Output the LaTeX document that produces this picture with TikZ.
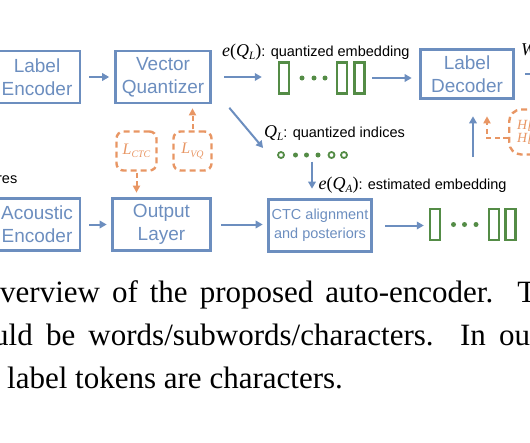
\documentclass[tikz,border=0pt]{standalone}
\usepackage{fontspec}
\setmainfont{Liberation Serif}
\setsansfont{Liberation Sans}
\usetikzlibrary{arrows.meta}
\definecolor{aeblue}{RGB}{108,142,191}
\definecolor{aegreen}{RGB}{84,140,70}
\definecolor{aeorange}{RGB}{232,150,100}
\newcommand{\lowtext}[1]{\raisebox{-0.2em}{\scalebox{0.62}{#1}}}
\begin{document}
\begin{tikzpicture}[x=1pt, y=-1pt,
block/.style={rectangle,draw=aeblue,line width=2.6pt,text=aeblue,align=center,inner sep=0pt,minimum height=52pt,font=\sffamily\fontsize{19}{23}\selectfont},
loss/.style={rectangle,draw=aeorange,line width=2.4pt,dash pattern=on 6pt off 4pt,rounded corners=7pt,text=aeorange,inner sep=0pt,font=\rmfamily\itshape\fontsize{16}{16}\selectfont},
emb/.style={rectangle,draw=aegreen,line width=2.4pt,minimum width=10pt,minimum height=31pt,inner sep=0pt},
dot/.style={circle,fill=aegreen,minimum size=5pt,inner sep=0pt},
idx/.style={circle,draw=aegreen,line width=1.8pt,minimum size=6pt,inner sep=0pt},
flow/.style={draw=aeblue,line width=2pt,-{Triangle[length=7pt,width=7.5pt]},shorten <=8pt,shorten >=5pt},
lossflow/.style={draw=aeorange,line width=2pt,dash pattern=on 5pt off 3.5pt,-{Triangle[length=7pt,width=7pt]}},
note/.style={font=\sffamily\fontsize{14.5}{17}\selectfont,inner sep=0pt,anchor=west},
capline/.style={font=\rmfamily\fontsize{31}{31}\selectfont,inner sep=0pt,anchor=base west}]
\useasboundingbox (0,0) rectangle (530,442);
\clip (0,0) rectangle (530,442);
% blocks
\node[block,minimum width=86pt] (lenc) at (37,77) {Label\\Encoder};%top
\node[block,minimum width=95pt] (vq) at (163,77) {Vector\\Quantizer};
\node[block,minimum width=93pt,minimum height=49pt] (ldec) at (467,74) {Label\\Decoder};
\node[block,minimum width=86pt] (aenc) at (37,224.5) {Acoustic\\Encoder};%bottom
\node[block,minimum width=98pt] (outl) at (161.5,224.5) {Output\\Layer};
\node[block,minimum width=103pt,font=\sffamily\fontsize{14.5}{19}\selectfont] (ctc) at (320,225.5) {CTC alignment\\and posteriors};
% losses
\node[loss,minimum width=40pt,minimum height=39pt] (lctc) at (136.5,151) {L\lowtext{CTC}};
\node[loss,minimum width=38pt,minimum height=39pt] (lvq) at (192.5,151) {L\lowtext{VQ}};
\node[loss,anchor=west,minimum height=45pt,text width=44pt,align=left,inner xsep=8pt,rounded corners=12pt,font=\rmfamily\itshape\fontsize{14}{13}\selectfont] (hist) at (508,132) {H[A]\\H[A]};
% embeddings
\begin{scope}
\node[emb] (e1) at (284,78) {};%1
\node[dot] (d1) at (302,78) {};
\node[dot] (d2) at (314,78) {};
\node[dot] (d3) at (325,78) {};
\node[emb] (e2) at (342,78) {};%2
\node[emb] (e3) at (359.5,78) {};%3
\node[emb] (a1) at (435,224.5) {};%1
\node[dot] (f1) at (453.5,224.5) {};
\node[dot] (f2) at (464.5,224.5) {};
\node[dot] (f3) at (476,224.5) {};
\node[emb] (a2) at (494,224.5) {};%2
\node[emb] (a3) at (510.5,224.5) {};%3
\end{scope}
% indices
\node[idx] (i1) at (281,155) {};
\node[dot] (i2) at (295.5,155) {};
\node[dot] (i3) at (306.5,155) {};
\node[dot] (i4) at (318,155) {};
\node[idx] (i5) at (331.5,155) {};
\node[idx] (i6) at (344,155) {};
% labels
\node[note] (eql) at (222,52) {{\rmfamily\fontsize{18}{18}\selectfont\textit{e}(\textit{Q}\lowtext{\textit{L}})}: quantized embedding};
\node[note] (qll) at (264,133) {{\rmfamily\fontsize{18}{18}\selectfont\textit{Q}\lowtext{\textit{L}}}: quantized indices};
\node[note] (eqa) at (318.5,185) {{\rmfamily\fontsize{18}{18}\selectfont\textit{e}(\textit{Q}\lowtext{\textit{A}})}: estimated embedding};
\node[note,anchor=east] (feat) at (17.5,180) {res};
\node[anchor=west,inner sep=0pt,font=\rmfamily\itshape\fontsize{18}{18}\selectfont] (wlab) at (521,50) {W};
\coordinate (wend) at (560,74);
\coordinate (qaup) at (473,157);
% blue connectors
\draw[flow] (lenc) -- (vq);
\draw[flow,shorten <=12.5pt,shorten >=16pt] (vq.east) -- (vq.east -| e1.west);
\draw[flow,shorten <=6.5pt,shorten >=7.5pt] (e3.east) -- (ldec.west |- e3.east);
\draw[flow,shorten <=10.5pt,shorten >=0pt] (ldec.east) -- (wend);
\draw[flow,shorten <=0pt,shorten >=0pt] ([xshift=17.5pt,yshift=-3.5pt]vq.south east) -- ([xshift=-14pt,yshift=7pt]i1.west);
\draw[flow,shorten <=4pt,shorten >=9.5pt] ([xshift=-8pt]ctc.north |- i4.south) -- ([xshift=-8pt]ctc.north);
\draw[flow,shorten <=0pt,shorten >=16.5pt] (qaup) -- (qaup |- ldec.south);
\draw[flow,shorten >=4.5pt] (aenc) -- (outl);
\draw[flow,shorten <=9.5pt,shorten >=4.5pt] (outl.east) -- (outl.east -| ctc.west);
\draw[flow,shorten <=12.5pt,shorten >=5pt] (ctc.east) -- (ctc.east -| a1.west);
% orange connectors
\draw[lossflow,shorten <=1pt,shorten >=4.5pt] (lctc.south) -- (lctc.south |- outl.north);
\draw[lossflow,shorten <=1pt,shorten >=4pt] (lvq.north) -- (lvq.north |- vq.south);
\draw[lossflow,shorten >=16.5pt] ([yshift=-6pt]hist.west) -| ([xshift=20pt]ldec.south);
% caption
\node[capline] (cap1) at (0,302.5) {\makebox[536pt][s]{verview of the proposed auto-encoder.\ \ T}};
\node[capline] (cap2) at (-7,345) {\makebox[537pt][s]{uld be words/subwords/characters.\ \ In ou}};
\node[capline] (cap3) at (7,388) {label tokens are characters.};
\end{tikzpicture}
\end{document}
